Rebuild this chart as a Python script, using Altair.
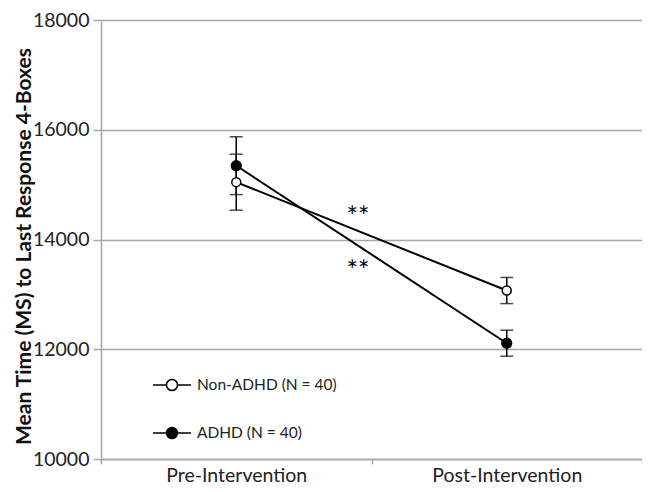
import altair as alt
import pandas as pd

phases = ["Pre-Intervention", "Post-Intervention"]
phase_pos = [0, 1]
groups = ["Non-ADHD (N = 40)", "ADHD (N = 40)"]
non_adhd_mean = [15045, 13070]
non_adhd_err = [510, 238]
adhd_mean = [15345, 12110]
adhd_err = [527, 237]
star_labels = ["**", "**"]
star_x = [0.45, 0.45]
star_y = [14430, 13450]
y_ticks = [10000, 12000, 14000, 16000, 18000]

rows = []
for g, means, errs in [(groups[0], non_adhd_mean, non_adhd_err), (groups[1], adhd_mean, adhd_err)]:
    for p, pos, m, e in zip(phases, phase_pos, means, errs):
        rows.append({"group": g, "phase": p, "pos": pos, "mean": m, "lo": m - e, "hi": m + e})
df = pd.DataFrame(rows)
stars = pd.DataFrame({"x": star_x, "y": star_y, "t": star_labels})

FONT = "Lato"
GRAY = "#a6a6a6"
label_expr = " : ".join(
    [f"datum.value == {pos} ? '{p}'" for p, pos in zip(phases, phase_pos)]
) + " : ''"

x_scale = alt.Scale(domain=[-0.5, 1.5], nice=False, zero=False)
y_scale = alt.Scale(domain=[10000, 18000], nice=False, zero=False)

x_axis = alt.Axis(
    values=[-0.5, 0, 0.5, 1, 1.5],
    labelExpr=label_expr,
    title=None,
    grid=False,
    tickSize=5,
    tickColor=GRAY,
    tickWidth=1.5,
    tickOpacity={"condition": {"test": "datum.value == 0 || datum.value == 1", "value": 0}, "value": 1},
    domainColor=GRAY,
    domainWidth=1.5,
    labelFont=FONT,
    labelFontSize=19.5,
    labelColor="#222222",
    labelPadding=2,
    labelOverlap=False,
    labelFlush=False,
    labelBound=False,
)
y_axis = alt.Axis(
    values=y_ticks,
    format="d",
    title="Mean Time (MS) to Last Response 4-Boxes",
    titleFont=FONT,
    titleFontSize=21,
    titleFontWeight="bold",
    titleColor="#111111",
    titleX=-77,
    titleY=226,
    titleAngle=-90,
    titleAlign="center",
    titleBaseline="middle",
    grid=True,
    gridColor=GRAY,
    gridWidth=1.5,
    tickSize=8,
    tickColor=GRAY,
    tickWidth=1.5,
    domainColor=GRAY,
    domainWidth=1.5,
    labelFont=FONT,
    labelFontSize=19.5,
    labelColor="#222222",
    labelPadding=4,
)

base = alt.Chart(df)
X = alt.X("pos:Q", scale=x_scale, axis=x_axis)

lines = base.mark_line(color="black", strokeWidth=2).encode(
    x=X, y=alt.Y("mean:Q", scale=y_scale, axis=y_axis), detail="group:N"
)
rules = base.mark_rule(color="black", strokeWidth=1.5).encode(
    x=alt.X("pos:Q"), y=alt.Y("lo:Q"), y2="hi:Q"
)
cap_lo = base.mark_tick(color="black", orient="horizontal", size=13, thickness=1.5).encode(
    x=alt.X("pos:Q"), y=alt.Y("lo:Q")
)
cap_hi = base.mark_tick(color="black", orient="horizontal", size=13, thickness=1.5).encode(
    x=alt.X("pos:Q"), y=alt.Y("hi:Q")
)
pts_open = base.transform_filter(alt.datum.group == groups[0]).mark_point(
    shape="circle", filled=True, fill="white", stroke="black", strokeWidth=1.5, size=80, opacity=1
).encode(x=alt.X("pos:Q"), y=alt.Y("mean:Q"))
pts_fill = base.transform_filter(alt.datum.group == groups[1]).mark_point(
    shape="circle", filled=True, fill="black", stroke="black", strokeWidth=1.5, size=95, opacity=1
).encode(x=alt.X("pos:Q"), y=alt.Y("mean:Q"))

sym_path = (
    "M-1,0L-0.29,0M0.29,0L1,0"
    "M0.29,0C0.29,0.16,0.16,0.29,0,0.29C-0.16,0.29,-0.29,0.16,-0.29,0"
    "C-0.29,-0.16,-0.16,-0.29,0,-0.29C0.16,-0.29,0.29,-0.16,0.29,0Z"
)
legend = alt.Legend(
    title=None,
    orient="none",
    legendX=51,
    legendY=345,
    padding=0,
    symbolSize=1444,
    symbolStrokeColor="black",
    symbolStrokeWidth=1.5,
    symbolOpacity=1,
    labelFont=FONT,
    labelFontSize=15.5,
    labelColor="#222222",
    labelOffset=5,
    labelLimit=300,
    rowPadding=19,
)
legend_layer = base.transform_filter("false").mark_point(filled=True).encode(
    x=alt.X("pos:Q"),
    y=alt.Y("mean:Q"),
    shape=alt.Shape("group:N", scale=alt.Scale(domain=groups, range=[sym_path, sym_path]), legend=legend),
    fill=alt.Fill("group:N", scale=alt.Scale(domain=groups, range=["white", "black"]), legend=legend),
    stroke=alt.Stroke("group:N", scale=alt.Scale(domain=groups, range=["black", "black"]), legend=legend),
)

star_text = alt.Chart(stars).mark_text(
    font=FONT, fontSize=27, color="black", baseline="middle", dy=2
).encode(x=alt.X("x:Q"), y=alt.Y("y:Q"), text="t:N")

chart = (
    alt.layer(lines, rules, cap_lo, cap_hi, pts_open, pts_fill, legend_layer, star_text)
    .properties(
        width=541,
        height=439,
        autosize=alt.AutoSizeParams(type="none"),
        padding={"left": 93, "top": 12, "right": 0, "bottom": 30},
        background="white",
    )
    .configure_view(stroke=None)
)

chart.save("out.html", embed_options={"renderer": "svg", "actions": False})
